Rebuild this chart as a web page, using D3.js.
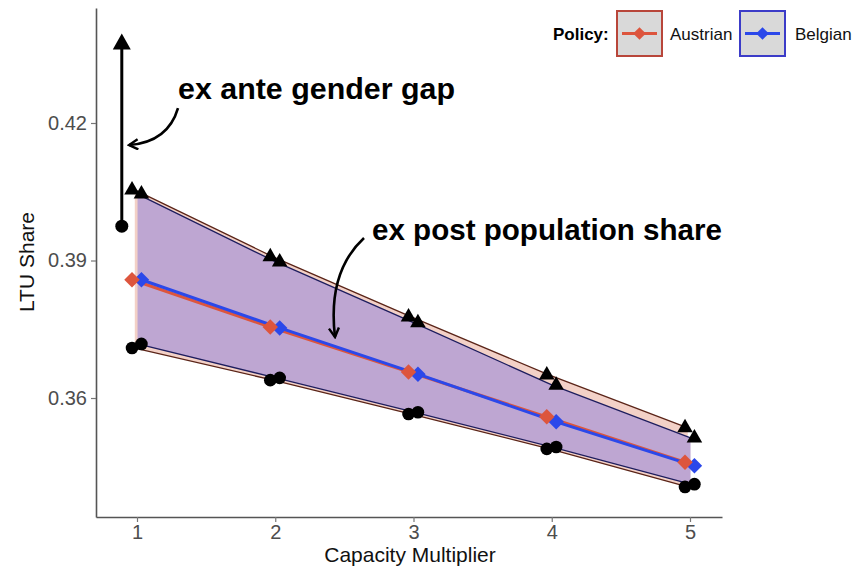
<!DOCTYPE html>
<html>
<head>
<meta charset="utf-8">
<script src="https://cdn.jsdelivr.net/npm/d3@7"></script>
<style>
  html, body { margin: 0; padding: 0; background: #fff; }
  svg { display: block; font-family: "Liberation Sans", Arial, Helvetica, sans-serif; }
</style>
</head>
<body>
<svg id="chart" width="865" height="569"></svg>
<script>
// ---------- data ----------
const multipliers = [1, 2, 3, 4, 5];
const policies = ["Austrian", "Belgian"];
// upper bound (triangles)
const upperAustrian = [0.4054, 0.3908, 0.3777, 0.3650, 0.3535];
const upperBelgian  = [0.4045, 0.3897, 0.3764, 0.3628, 0.3513];
// ex post population share (diamonds)
const midAustrian = [0.3858, 0.3755, 0.3657, 0.3559, 0.3460];
const midBelgian  = [0.3858, 0.3753, 0.3652, 0.3548, 0.3452];
// lower bound (circles)
const lowerAustrian = [0.3709, 0.3639, 0.3565, 0.3489, 0.3406];
const lowerBelgian  = [0.3718, 0.3644, 0.3569, 0.3493, 0.3412];
// ex ante gender gap arrow
const exAnteGap = { x: 0.89, from: 0.3975, to: 0.4395 };
const xTicks = [1, 2, 3, 4, 5];
const yTicks = [0.36, 0.39, 0.42];
const annotations = [
  { text: "ex ante gender gap", x: 1.2966, y: 0.42524, width: 277 },
  { text: "ex post population share", x: 2.6998, y: 0.39447, width: 350 }
];
const curvedArrows = [
  [[1.2966, 0.42327], [1.2242, 0.41585], [0.9421, 0.4152]],
  [[2.642, 0.39491], [2.4539, 0.38967], [2.396, 0.38247], [2.4322, 0.37331]]
];

// ---------- styles ----------
const colors = { Austrian: "#dd553d", Belgian: "#2b48ea" };
const borders = { Austrian: "#5a2418", Belgian: "#1d1d5e" };
const ribbonFill = { Austrian: "#f3d1c7", Belgian: "#bea6d2" };
const pointDodge = { Austrian: -0.036, Belgian: 0.032 };
const ribbonDodge = { Austrian: -0.016, Belgian: 0.004 };

const series = {
  Austrian: { up: upperAustrian, mid: midAustrian, lo: lowerAustrian },
  Belgian: { up: upperBelgian, mid: midBelgian, lo: lowerBelgian }
};

const svg = d3.select("#chart");
const x = d3.scaleLinear().domain([0.7034, 5.2315]).range([96, 722]);
const y = d3.scaleLinear().domain([0.33404, 0.44509]).range([517, 8]);

// ---------- ribbons ----------
const area = (p) => d3.area()
  .x((d, i) => x(multipliers[i] + ribbonDodge[p]))
  .y0((d, i) => y(series[p].lo[i]))
  .y1((d, i) => y(series[p].up[i]));
policies.forEach(p => {
  svg.append("path").datum(multipliers)
    .attr("d", area(p)(multipliers))
    .attr("fill", ribbonFill[p]);
});
policies.forEach(p => {
  ["up", "lo"].forEach(k => {
    const ln = d3.line().x((d, i) => x(multipliers[i] + ribbonDodge[p])).y(d => y(d));
    svg.append("path").attr("d", ln(series[p][k]))
      .attr("fill", "none").attr("stroke", borders[p]).attr("stroke-width", 1.3);
  });
});

// ---------- lines ----------
policies.forEach(p => {
  const ln = d3.line().x((d, i) => x(multipliers[i] + pointDodge[p])).y(d => y(d));
  svg.append("path").attr("d", ln(series[p].mid))
    .attr("fill", "none").attr("stroke", colors[p]).attr("stroke-width", 3);
});

// ---------- points ----------
const tri = d3.symbol().type(d3.symbolTriangle).size(105);
const circ = d3.symbol().type(d3.symbolCircle).size(125);
const diamond = d3.symbol().type(d3.symbolSquare).size(120);
policies.forEach(p => {
  const g = svg.append("g");
  series[p].up.forEach((v, i) => {
    g.append("path").attr("d", tri())
      .attr("transform", `translate(${x(multipliers[i] + pointDodge[p])},${y(v)})`)
      .attr("fill", "#000");
  });
  series[p].lo.forEach((v, i) => {
    g.append("path").attr("d", circ())
      .attr("transform", `translate(${x(multipliers[i] + pointDodge[p])},${y(v)})`)
      .attr("fill", "#000");
  });
});
["Belgian", "Austrian"].forEach(p => {
  series[p].mid.forEach((v, i) => {
    svg.append("path").attr("d", diamond())
      .attr("transform", `translate(${x(multipliers[i] + pointDodge[p])},${y(v)}) rotate(45)`)
      .attr("fill", colors[p]);
  });
});

// ---------- axes ----------
const xAxis = svg.append("g").attr("transform", "translate(0,517)")
  .call(d3.axisBottom(x).tickValues(xTicks).tickSize(5).tickSizeOuter(0).tickPadding(3).tickFormat(d3.format("d")));
const yAxis = svg.append("g").attr("transform", "translate(96,0)")
  .call(d3.axisLeft(y).tickValues(yTicks).tickSize(5).tickSizeOuter(0).tickPadding(4).tickFormat(d3.format(".2f")));
[xAxis, yAxis].forEach(a => {
  a.select(".domain").attr("stroke", "#555").attr("stroke-width", 1.6);
  a.selectAll(".tick line").attr("stroke", "#777").attr("stroke-width", 1.2);
  a.selectAll(".tick text").attr("fill", "#4d4d4d").style("font-size", "20px")
    .style("font-family", "'Liberation Sans', Arial, sans-serif");
});
svg.append("text").attr("x", 410).attr("y", 562).attr("text-anchor", "middle")
  .style("font-size", "21px").attr("fill", "#111").text("Capacity Multiplier");
svg.append("text").attr("transform", "translate(34,262) rotate(-90)").attr("text-anchor", "middle")
  .style("font-size", "21px").attr("fill", "#111").text("LTU Share");

// ---------- annotations ----------
const defs = svg.append("defs");
defs.append("marker").attr("id", "openArrow").attr("viewBox", "0 0 12 12")
  .attr("refX", 10).attr("refY", 6).attr("markerWidth", 12).attr("markerHeight", 12)
  .attr("markerUnits", "userSpaceOnUse").attr("orient", "auto")
  .append("path").attr("d", "M1,1 L10,6 L1,11").attr("fill", "none")
  .attr("stroke", "#000").attr("stroke-width", 2.4).attr("stroke-linejoin", "miter");

// vertical gap arrow
const ax = x(exAnteGap.x);
svg.append("line").attr("x1", ax).attr("x2", ax)
  .attr("y1", y(exAnteGap.from)).attr("y2", y(exAnteGap.to) + 10)
  .attr("stroke", "#000").attr("stroke-width", 3);
svg.append("path")
  .attr("d", `M${ax},${y(exAnteGap.to)} L${ax + 9},${y(exAnteGap.to) + 16} L${ax - 9},${y(exAnteGap.to) + 16} Z`)
  .attr("fill", "#000");
svg.append("circle").attr("cx", ax).attr("cy", y(exAnteGap.from)).attr("r", 6.5).attr("fill", "#000");

// curved arrows
curvedArrows.forEach(pts => {
  const P = pts.map(d => [x(d[0]), y(d[1])]);
  let d;
  if (P.length === 3) d = `M${P[0]} Q${P[1]} ${P[2]}`;
  else d = `M${P[0]} C${P[1]} ${P[2]} ${P[3]}`;
  svg.append("path").attr("d", d).attr("fill", "none").attr("stroke", "#000")
    .attr("stroke-width", 2.6).attr("marker-end", "url(#openArrow)");
});

annotations.forEach(a => {
  svg.append("text").attr("x", x(a.x)).attr("y", y(a.y))
    .style("font-size", "30px").style("font-weight", "bold").attr("fill", "#000")
    .attr("textLength", a.width).attr("lengthAdjust", "spacingAndGlyphs")
    .text(a.text);
});

// ---------- legend ----------
const lg = svg.append("g");
lg.append("text").attr("x", 553).attr("y", 40).style("font-size", "17px")
  .style("font-weight", "bold").attr("fill", "#000").text("Policy:");
const legendItems = [
  { p: "Austrian", bx: 617, tx: 670 },
  { p: "Belgian", bx: 740, tx: 795 }
];
legendItems.forEach(it => {
  lg.append("rect").attr("x", it.bx).attr("y", 11).attr("width", 45).attr("height", 45)
    .attr("fill", "#d9d9d9").attr("stroke", it.p === "Austrian" ? "#b8463a" : "#3c3cc8").attr("stroke-width", 2);
  lg.append("line").attr("x1", it.bx + 5).attr("x2", it.bx + 40).attr("y1", 33.5).attr("y2", 33.5)
    .attr("stroke", colors[it.p]).attr("stroke-width", 3);
  lg.append("path").attr("d", d3.symbol().type(d3.symbolSquare).size(80)())
    .attr("transform", `translate(${it.bx + 22.5},33.5) rotate(45)`).attr("fill", colors[it.p]);
  lg.append("text").attr("x", it.tx).attr("y", 40).style("font-size", "17px")
    .attr("fill", "#111").text(it.p);
});
</script>
</body>
</html>
